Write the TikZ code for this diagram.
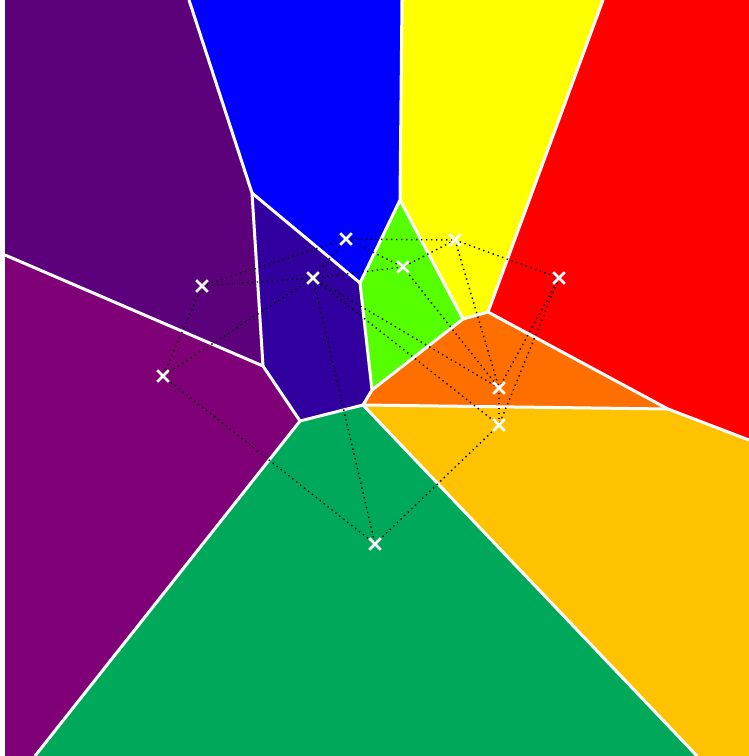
\documentclass[tikz,border=0pt]{standalone}
\usepackage{tikz}
\usetikzlibrary{shapes.misc}
\definecolor{vorPurpleDark}{RGB}{92,0,124}
\definecolor{vorPurple}{RGB}{127,0,119}
\definecolor{vorIndigo}{RGB}{51,0,160}
\definecolor{vorBlue}{RGB}{0,0,255}
\definecolor{vorLime}{RGB}{85,255,0}
\definecolor{vorYellow}{RGB}{255,255,0}
\definecolor{vorRed}{RGB}{255,0,0}
\definecolor{vorOrange}{RGB}{255,111,0}
\definecolor{vorGold}{RGB}{255,194,0}
\definecolor{vorGreen}{RGB}{0,168,89}

\begin{document}
\begin{tikzpicture}[x=1pt,y=-1pt,
  cell/.style={draw=white,line width=3pt,line join=round},
  delaunay/.style={black,line width=1.4pt,dash pattern=on 1.4pt off 3.6pt},
  site/.style={cross out,draw=white,line width=2.6pt,minimum size=9pt,inner sep=0pt}]
  \useasboundingbox (0,0) rectangle (749,756);
  % Voronoi vertices
  \coordinate (a) at (189,0);
  \coordinate (b) at (252,193);
  \coordinate (c) at (402,0);
  \coordinate (d) at (400,200);
  \coordinate (e) at (360,283);
  \coordinate (f) at (603,0);
  \coordinate (g) at (488,312);
  \coordinate (h) at (463,319);
  \coordinate (i) at (372,390);
  \coordinate (j) at (363,405);
  \coordinate (k) at (300,421);
  \coordinate (l) at (263,366);
  \coordinate (m) at (5,255);
  \coordinate (n) at (668,409);
  \coordinate (o) at (749,440);
  \coordinate (p) at (35,756);
  \coordinate (q) at (697,756);
  % sites
  \coordinate (s1) at (346,239);
  \coordinate (s2) at (455,240);
  \coordinate (s3) at (403,267);
  \coordinate (s4) at (559,278);
  \coordinate (s5) at (313,278);
  \coordinate (s6) at (202,286);
  \coordinate (s7) at (163,376);
  \coordinate (s8) at (499,388);
  \coordinate (s9) at (499,425);
  \coordinate (s10) at (375,544);
  % cells
  \fill[vorPurpleDark] (5,0) -- (a) -- (b) -- (l) -- (m) -- cycle;
  \fill[vorPurple] (m) -- (l) -- (k) -- (p) -- (5,756) -- cycle;
  \fill[vorBlue] (a) -- (c) -- (d) -- (e) -- (b) -- cycle;
  \fill[vorYellow] (c) -- (f) -- (g) -- (h) -- (d) -- cycle;
  \fill[vorRed] (f) -- (749,0) -- (o) -- (n) -- (g) -- cycle;
  \fill[vorLime] (d) -- (h) -- (i) -- (e) -- cycle;
  \fill[vorOrange] (h) -- (g) -- (n) -- (j) -- (i) -- cycle;
  \fill[vorGold] (j) -- (n) -- (o) -- (749,756) -- (q) -- cycle;
  \fill[vorGreen] (k) -- (j) -- (q) -- (p) -- cycle;
  \fill[vorIndigo] (b) -- (e) -- (i) -- (j) -- (k) -- (l) -- cycle;
  \draw[cell] (a) -- (b) -- (l) -- (m);
  \draw[cell] (b) -- (e) -- (d) -- (c);
  \draw[cell] (d) -- (h) -- (g) -- (f);
  \draw[cell] (g) -- (n) -- (o);
  \draw[cell] (h) -- (i) -- (e);
  \draw[cell] (i) -- (j) -- (n);
  \draw[cell] (j) -- (k) -- (l);
  \draw[cell] (k) -- (p);
  \draw[cell] (j) -- (q);
  % triangulation
  \foreach \u/\v in {s1/s2,s1/s3,s1/s5,s1/s6,s2/s3,s2/s4,s2/s8,s3/s5,s3/s8,
      s4/s8,s4/s9,s5/s6,s5/s7,s5/s8,s5/s9,s5/s10,s6/s7,s7/s10,s8/s9,s9/s10}
    \draw[delaunay] (\u) -- (\v);
  \foreach \s in {1,...,10}
    \node[site] (x\s) at (s\s) {};
\end{tikzpicture}
\end{document}
